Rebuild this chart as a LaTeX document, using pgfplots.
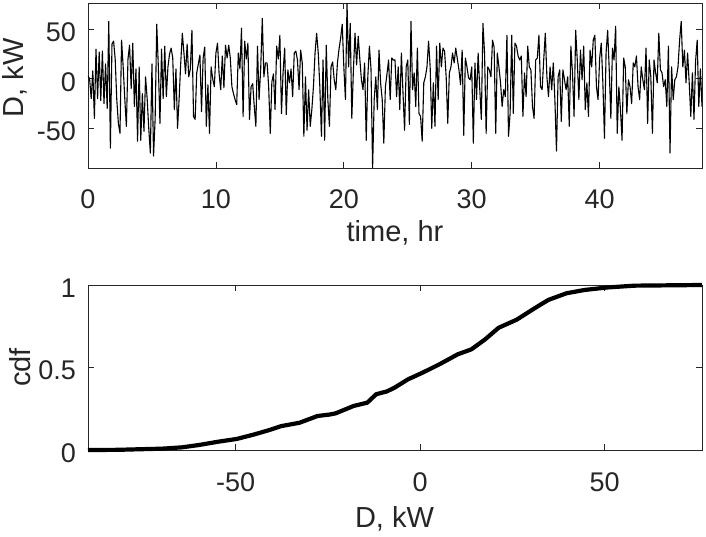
\documentclass[border=0pt]{standalone}
\usepackage{pgfplots}
\pgfplotsset{compat=1.18}
\usepackage{fontspec}
\setmainfont{Liberation Sans}
\definecolor{axgray}{rgb}{0.15,0.15,0.15}
\pgfplotsset{
  mlab/.style={
    scale only axis, width=614pt, height=165pt,
    axis line style={draw=axgray, line width=0.8pt},
    tick style={draw=axgray, line width=0.8pt},
    tick align=inside, tick pos=both, major tick length=6pt,
    minor tick num=0,
    /pgf/number format/assume math mode=true,
    tick label style={font=\fontsize{27}{32}\selectfont, text=axgray, inner sep=0pt},
    xticklabel style={anchor=base, yshift=-41pt},
    yticklabel style={anchor=east, xshift=-12pt, yshift=-3pt},
  }
}
\begin{document}
\begin{tikzpicture}
\begin{axis}[mlab, at={(0pt,282pt)}, anchor=south west,
  xmin=0, xmax=48, ymin=-90, ymax=76.5,
  xtick={0,10,20,30,40}, ytick={-50,0,50}]
\addplot[black, line width=1.1pt, line join=round] table[header=false, row sep=\\, x expr=\coordindex/8, y index=0] {
3\\ 0\\ -20\\ 8\\ -40\\ 30\\ -20\\ 27\\
-22\\ 28\\ -25\\ 15\\ -30\\ 58\\ -70\\ 35\\
38\\ 20\\ -21\\ -45\\ -55\\ 39\\ 12\\ -20\\
-48\\ 20\\ 34\\ -10\\ 36\\ -28\\ 10\\ -63\\
12\\ -62\\ -15\\ -53\\ 2\\ -20\\ -50\\ -75\\
15\\ -78\\ -40\\ 55\\ 12\\ -45\\ 30\\ -20\\
33\\ -18\\ 12\\ 25\\ 31\\ 21\\ -31\\ 10\\
-50\\ -20\\ 16\\ 46\\ 26\\ 5\\ 35\\ 2\\
10\\ 49\\ -38\\ -41\\ 6\\ 15\\ 24\\ -33\\
21\\ 32\\ -48\\ -6\\ -55\\ 12\\ 0\\ -8\\
26\\ 36\\ 5\\ -11\\ 23\\ -9\\ 34\\ 21\\
34\\ 21\\ -8\\ -15\\ -21\\ -26\\ 26\\ 10\\
51\\ -38\\ 38\\ 20\\ 36\\ -41\\ -8\\ -5\\
-28\\ -48\\ 33\\ -21\\ 10\\ 61\\ 2\\ 16\\
16\\ -8\\ -55\\ -3\\ 5\\ -31\\ 33\\ 20\\
44\\ -35\\ 6\\ 31\\ -36\\ 9\\ -4\\ 10\\
-18\\ 26\\ 28\\ 19\\ -11\\ 29\\ 16\\ -58\\
2\\ -52\\ -11\\ -48\\ -31\\ -8\\ 26\\ 46\\
26\\ -8\\ -58\\ 19\\ -62\\ 34\\ -21\\ -48\\
12\\ 17\\ -1\\ -11\\ 16\\ 30\\ 41\\ 55\\
12\\ -21\\ 76\\ 12\\ 56\\ -40\\ 9\\ 46\\
14\\ 43\\ 20\\ -1\\ -11\\ 16\\ -62\\ 2\\
33\\ 10\\ -90\\ -21\\ 2\\ -31\\ 29\\ -4\\
-21\\ -65\\ -8\\ 5\\ 19\\ -21\\ 21\\ 19\\
19\\ -18\\ 12\\ -31\\ 26\\ -14\\ -52\\ 12\\
19\\ -46\\ 58\\ -11\\ 6\\ -28\\ 31\\ -35\\
-38\\ -63\\ -4\\ 2\\ 12\\ 38\\ 12\\ -50\\
-4\\ -48\\ 33\\ -21\\ 36\\ 12\\ 31\\ 28\\
2\\ -45\\ 6\\ 12\\ 26\\ 16\\ 31\\ 20\\
9\\ -6\\ 29\\ -57\\ 21\\ 12\\ 1\\ -1\\
12\\ -65\\ 16\\ -21\\ 26\\ -10\\ -41\\ 56\\
26\\ -55\\ 12\\ 9\\ 2\\ 39\\ 32\\ -55\\
26\\ 12\\ -4\\ -28\\ -11\\ -18\\ 44\\ -58\\
-35\\ 44\\ -35\\ 36\\ 33\\ 23\\ 19\\ 23\\
-38\\ 6\\ -18\\ 33\\ 12\\ 9\\ -28\\ -40\\
19\\ 21\\ 44\\ -8\\ -11\\ 19\\ 46\\ 2\\
-18\\ 12\\ -11\\ 16\\ -21\\ -73\\ 2\\ 9\\
-43\\ 9\\ -1\\ -11\\ 2\\ -48\\ 33\\ 6\\
-38\\ 49\\ 19\\ -21\\ 29\\ -1\\ 33\\ -31\\
-4\\ -38\\ 29\\ 12\\ 39\\ 44\\ -8\\ -21\\
21\\ 36\\ -4\\ -60\\ 26\\ 49\\ 9\\ -40\\
31\\ 19\\ 53\\ -55\\ -8\\ -31\\ -62\\ 21\\
12\\ -35\\ -1\\ -8\\ -25\\ 16\\ 12\\ 23\\
-8\\ -21\\ 12\\ -1\\ -11\\ 31\\ -45\\ 19\\
2\\ -55\\ 19\\ 6\\ -4\\ 46\\ 9\\ 6\\
-8\\ -1\\ -28\\ 33\\ -75\\ 12\\ -21\\ -1\\
2\\ 12\\ 39\\ 58\\ 12\\ 29\\ -4\\ 26\\
-4\\ -38\\ 6\\ -41\\ 18\\ 39\\ -28\\ 10\\
-28\\
};
\end{axis}
\begin{axis}[mlab, at={(0pt,0pt)}, anchor=south west, clip=false,
  xmin=-90, xmax=76.4, ymin=0, ymax=1,
  xtick={-50,0,50}, ytick={0,0.5,1}]
\addplot[black, line width=4.2pt, line join=round] coordinates {
(-90,0) (-82,0.001) (-77,0.004) (-70,0.008) (-64.6,0.016) (-60,0.03)
(-54.8,0.05) (-49.7,0.067) (-45,0.094) (-41,0.12) (-37.6,0.145)
(-32.7,0.165) (-27.8,0.206) (-24.5,0.215) (-22.9,0.222) (-18,0.267)
(-14.3,0.287) (-11.9,0.338) (-9,0.355) (-6.9,0.378) (-3.3,0.428) (0.7,0.469)
(5.3,0.52) (10.2,0.58) (13.9,0.61) (17.6,0.67) (21.3,0.741) (26.2,0.79)
(31.1,0.86) (34.8,0.91) (39.7,0.95) (44.6,0.97) (50.7,0.985) (58.1,0.996)
(76.4,1)
};
\end{axis}
\begin{scope}[every node/.style={font=\fontsize{29}{34}\selectfont, text=axgray, inner sep=0pt}]
\node[anchor=base] at (307pt,208.5pt) {time, hr};
\node[anchor=base] at (306.5pt,-77pt) {D, kW};
\node[rotate=90, anchor=base] at (-64pt,372pt) {D, kW};
\node[rotate=90, anchor=base] at (-57pt,82.5pt) {cdf};
\end{scope}
\pgfresetboundingbox
\path[use as bounding box] (-88pt,-86pt) rectangle (618pt,450pt);
\end{tikzpicture}
\end{document}
